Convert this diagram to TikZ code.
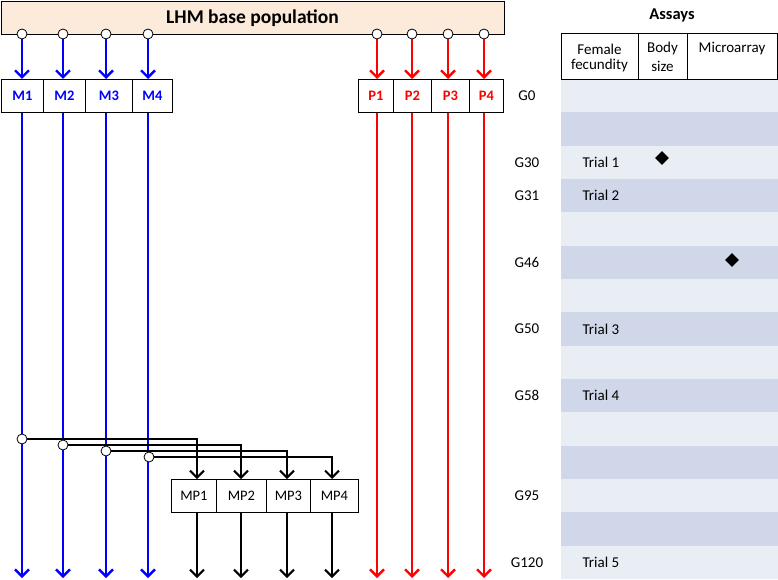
\documentclass[tikz,border=0pt]{standalone}
\usepackage{fontspec}
\setmainfont{Carlito}
\usetikzlibrary{arrows.meta,shapes.geometric}
\definecolor{peach}{HTML}{FCEADA}
\definecolor{lightrow}{HTML}{E9EDF4}
\definecolor{darkrow}{HTML}{D0D7E9}
\definecolor{bblue}{HTML}{0000FF}
\definecolor{rred}{HTML}{FF0000}
\begin{document}
\begin{tikzpicture}[x=1pt,y=-1pt,
  cell/.style={draw=black, line width=0.9pt, minimum height=33pt, inner sep=0pt, anchor=north west},
  mlab/.style={font=\fontsize{14.5}{16}\selectfont\bfseries, text=bblue},
  plab/.style={font=\fontsize{14.5}{16}\selectfont\bfseries, text=rred},
  mplab/.style={font=\fontsize{14.5}{16}\selectfont},
  circ/.style={circle, draw=black, fill=white, line width=0.8pt, minimum size=10pt, inner sep=0pt},
  bline/.style={draw=bblue, line width=2.4pt},
  rline/.style={draw=rred, line width=2.4pt},
  kline/.style={draw=black, line width=2pt},
  tip/.style={-{Straight Barb[length=7pt,width=14pt]}},
  glab/.style={font=\fontsize{15}{17}\selectfont},
  tlab/.style={font=\fontsize{15}{17}\selectfont, anchor=west},
  hlab/.style={font=\fontsize{15}{17}\selectfont},
  dia/.style={diamond, fill=black, minimum size=14pt, inner sep=0pt}
]
\useasboundingbox (0,0) rectangle (778,580);

% stripes
\foreach \i in {0,...,14} {
  \pgfmathsetmacro{\ya}{79+33.333*\i}
  \pgfmathsetmacro{\yb}{79+33.333*(\i+1)}
  \pgfmathparse{mod(\i,2)==0 ? "lightrow" : "darkrow"}
  \edef\rc{\pgfmathresult}
  \fill[\rc] (561,\ya) rectangle (778,\yb);
}

% base population
\node[draw=black, fill=peach, line width=1pt, minimum width=503pt, minimum height=33pt, anchor=north west, inner sep=0pt] (base) at (1,1) {};
\node[font=\fontsize{19.5}{22}\selectfont\bfseries] (basetext) at (252.5,18) {LHM base population};

% M boxes
\node[cell, minimum width=42pt, mlab] (m1) at (1,79) {M1};
\node[cell, minimum width=42pt, mlab] (m2) at (43,79) {M2};
\node[cell, minimum width=47pt, mlab] (m3) at (85,79) {M3};
\node[cell, minimum width=40pt, mlab] (m4) at (132,79) {M4};
% P boxes
\node[cell, minimum width=35pt, plab] (p1) at (358,79) {P1};
\node[cell, minimum width=38pt, plab] (p2) at (393,79) {P2};
\node[cell, minimum width=38pt, plab] (p3) at (431,79) {P3};
\node[cell, minimum width=34pt, plab] (p4) at (469,79) {P4};
% MP boxes
\node[cell, minimum width=45pt, mplab] (mp1) at (171,479) {MP1};
\node[cell, minimum width=50pt, mplab] (mp2) at (216,479) {MP2};
\node[cell, minimum width=44pt, mplab] (mp3) at (266,479) {MP3};
\node[cell, minimum width=48pt, mplab] (mp4) at (310,479) {MP4};

% top circles
\foreach \n/\x in {cm1/22,cm2/63,cm3/106,cm4/148,cp1/377,cp2/412,cp3/448,cp4/484}
  \coordinate (\n) at (\x,34);
% end points
\foreach \n/\x in {em1/22,em2/63,em3/106,em4/148,ep1/377,ep2/412,ep3/448,ep4/484,en1/197,en2/241,en3/287,en4/332}
  \coordinate (\n) at (\x,578);
% crossing points
\coordinate (x1) at (22,439);
\coordinate (x2) at (63,445);
\coordinate (x3) at (106,451);
\coordinate (x4) at (149,457);
\coordinate (a1) at (197,479);
\coordinate (a2) at (241,479);
\coordinate (a3) at (287,479);
\coordinate (a4) at (332,479);

% blue arrows
\foreach \i/\b in {1/m1,2/m2,3/m3,4/m4} {
  \draw[bline, tip] (cm\i) -- (cm\i |- \b.north);
  \draw[bline, tip] (cm\i |- \b.south) -- (em\i);
}
% red arrows
\foreach \i/\b in {1/p1,2/p2,3/p3,4/p4} {
  \draw[rline, tip] (cp\i) -- (cp\i |- \b.north);
  \draw[rline, tip] (cp\i |- \b.south) -- (ep\i);
}
% black crossing lines
\foreach \i in {1,2,3,4} {
  \draw[kline, tip] (x\i) -| (a\i);
}
\foreach \i/\b in {1/mp1,2/mp2,3/mp3,4/mp4} {
  \draw[kline, tip] (a\i |- \b.south) -- (en\i);
}
% circles
\foreach \n in {cm1,cm2,cm3,cm4,cp1,cp2,cp3,cp4,x1,x2,x3,x4}
  \node[circ] at (\n) {};

% assays header
\node[font=\fontsize{16.5}{18}\selectfont\bfseries] (assays) at (672,15) {Assays};
\node[cell, minimum width=77pt, minimum height=46pt] (h1) at (561,33) {};
\node[cell, minimum width=49pt, minimum height=46pt] (h2) at (638,33) {};
\node[cell, minimum width=90pt, minimum height=46pt] (h3) at (687,33) {};
\node[hlab] (h1a) at (599.5,49) {Female};
\node[hlab] (h1b) at (599.5,66) {fecundity};
\node[hlab] (h2a) at (662.5,49) {Body};
\node[hlab] (h2b) at (662.5,66) {size};
\node[hlab] (h3a) at (732,49) {Microarray};

% generation labels
\foreach \g/\r in {G0/0,G30/2,G31/3,G46/5,G50/7,G58/9,G95/12,G120/14}
  \node[glab] at (527,{79+33.333*\r+16.7}) {\g};
% trial labels
\foreach \t/\r in {Trial 1/2,Trial 2/3,Trial 3/7,Trial 4/9,Trial 5/14}
  \node[tlab] at (579,{79+33.333*\r+16.7}) {\t};
% diamonds
\node[dia] (d1) at (662,158) {};
\node[dia] (d2) at (732,260) {};
\end{tikzpicture}
\end{document}
